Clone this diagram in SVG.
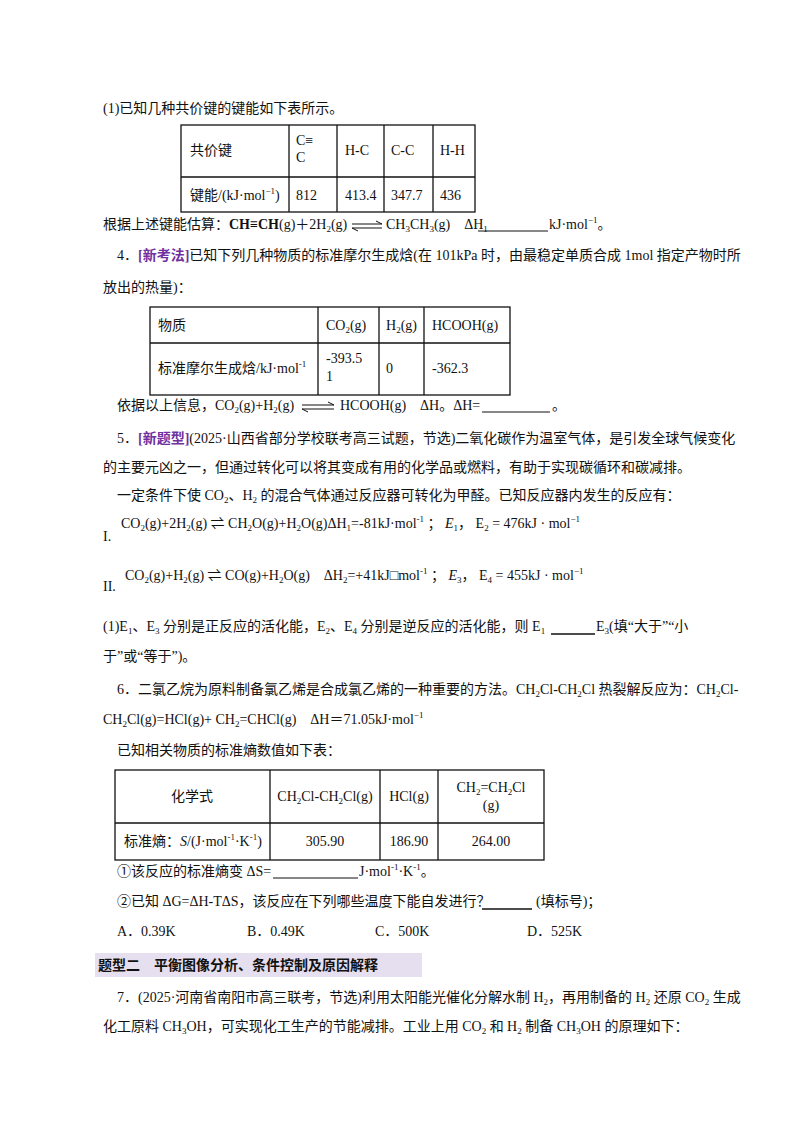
<svg xmlns="http://www.w3.org/2000/svg" width="800" height="1132" viewBox="0 0 800 1132">
<style>
text{font-family:"Liberation Serif","Noto Sans CJK SC",serif;font-size:14px;fill:#111}
.s{font-size:9px}
.p{fill:#7030a0;font-weight:bold}
.t line,.t rect{stroke:#111;stroke-width:1.3;fill:none}
.u{stroke:#111;stroke-width:1}
</style>
<rect width="800" height="1132" fill="#fff"/>
<text x="103" y="113">(1)已知几种共价键的键能如下表所示。</text>
<g id="table1" class="t">
<rect x="181" y="125" width="294" height="87"/>
<line x1="181" y1="177" x2="475" y2="177"/>
<line x1="289" y1="125" x2="289" y2="212"/>
<line x1="337" y1="125" x2="337" y2="212"/>
<line x1="384" y1="125" x2="384" y2="212"/>
<line x1="433" y1="125" x2="433" y2="212"/>
</g>
<text x="190" y="155">共价键</text>
<text x="296" y="145">C≡</text><text x="296" y="162">C</text>
<text x="345" y="155">H-C</text><text x="391" y="155">C-C</text><text x="440" y="155">H-H</text>
<text x="190" y="200">键能/(kJ·mol<tspan class="s" dy="-6">−1</tspan><tspan dy="6">)</tspan></text>
<text x="296" y="200">812</text><text x="345" y="200">413.4</text><text x="391" y="200">347.7</text><text x="440" y="200">436</text>
<text x="103" y="229">根据上述键能估算：<tspan font-weight="bold">CH≡CH</tspan>(g)＋2H<tspan class="s" dy="3">2</tspan><tspan dy="-3">(g)</tspan></text>
<g class="u"><line x1="352" y1="224" x2="382" y2="224"/><line x1="352" y1="228" x2="382" y2="228"/><line x1="352" y1="228" x2="358" y2="231"/><line x1="382" y1="224" x2="376" y2="221"/></g>
<text x="386" y="229">CH<tspan class="s" dy="3">3</tspan><tspan dy="-3">CH</tspan><tspan class="s" dy="3">3</tspan><tspan dy="-3">(g)　ΔH</tspan><tspan class="s" dy="3">1</tspan></text>
<line class="u" x1="478" y1="231" x2="548" y2="231"/>
<text x="549" y="229">kJ·mol<tspan class="s" dy="-6">−1</tspan><tspan dy="6">。</tspan></text>
<text x="117" y="260">4．<tspan class="p">[新考法]</tspan>已知下列几种物质的标准摩尔生成焓(在 101kPa 时，由最稳定单质合成 1mol 指定产物时所</text>
<text x="103" y="292">放出的热量)：</text>
<g id="table2" class="t">
<rect x="150" y="307" width="360" height="88"/>
<line x1="150" y1="343" x2="510" y2="343"/>
<line x1="318" y1="307" x2="318" y2="395"/>
<line x1="379" y1="307" x2="379" y2="395"/>
<line x1="424" y1="307" x2="424" y2="395"/>
</g>
<text x="158" y="330">物质</text>
<text x="326" y="330">CO<tspan class="s" dy="3">2</tspan><tspan dy="-3">(g)</tspan></text>
<text x="386" y="330">H<tspan class="s" dy="3">2</tspan><tspan dy="-3">(g)</tspan></text>
<text x="432" y="330">HCOOH(g)</text>
<text x="158" y="373">标准摩尔生成焓/kJ·mol<tspan class="s" dy="-6">-1</tspan></text>
<text x="326" y="363">-393.5</text><text x="326" y="381">1</text>
<text x="386" y="373">0</text><text x="432" y="373">-362.3</text>
<text x="117" y="410">依据以上信息，CO<tspan class="s" dy="3">2</tspan><tspan dy="-3">(g)+H</tspan><tspan class="s" dy="3">2</tspan><tspan dy="-3">(g)</tspan></text>
<g class="u"><line x1="302" y1="405" x2="334" y2="405"/><line x1="302" y1="409" x2="334" y2="409"/><line x1="302" y1="409" x2="308" y2="412"/><line x1="334" y1="405" x2="328" y2="402"/></g>
<text x="340" y="410">HCOOH(g)　ΔH。ΔH=</text>
<line class="u" x1="482" y1="412" x2="550" y2="412"/>
<text x="552" y="410">。</text>
<text x="117" y="443">5．<tspan class="p">[新题型]</tspan>(2025·山西省部分学校联考高三试题，节选)二氧化碳作为温室气体，是引发全球气候变化</text>
<text x="103" y="472">的主要元凶之一，但通过转化可以将其变成有用的化学品或燃料，有助于实现碳循环和碳减排。</text>
<text x="117" y="500">一定条件下使 CO<tspan class="s" dy="3">2</tspan><tspan dy="-3">、H</tspan><tspan class="s" dy="3">2</tspan><tspan dy="-3"> 的混合气体通过反应器可转化为甲醛。已知反应器内发生的反应有：</tspan></text>
<text x="103" y="541">I.</text>
<text x="121" y="528" font-size="14.5">CO<tspan class="s" dy="3">2</tspan><tspan dy="-3">(g)+2H</tspan><tspan class="s" dy="3">2</tspan><tspan dy="-3">(g) ⇌ CH</tspan><tspan class="s" dy="3">2</tspan><tspan dy="-3">O(g)+H</tspan><tspan class="s" dy="3">2</tspan><tspan dy="-3">O(g)ΔH</tspan><tspan class="s" dy="3">1</tspan><tspan dy="-3">=-81kJ·mol</tspan><tspan class="s" dy="-6">-1</tspan><tspan dy="6"> ；</tspan><tspan font-style="italic"> E</tspan><tspan class="s" dy="3">1</tspan><tspan dy="-3">，  E</tspan><tspan class="s" dy="3">2</tspan><tspan dy="-3"> = 476kJ · mol</tspan><tspan class="s" dy="-6">−1</tspan></text>
<text x="103" y="591">II.</text>
<text x="125" y="580" font-size="14.5">CO<tspan class="s" dy="3">2</tspan><tspan dy="-3">(g)+H</tspan><tspan class="s" dy="3">2</tspan><tspan dy="-3">(g) ⇌ CO(g)+H</tspan><tspan class="s" dy="3">2</tspan><tspan dy="-3">O(g)　ΔH</tspan><tspan class="s" dy="3">2</tspan><tspan dy="-3">=+41kJ□mol</tspan><tspan class="s" dy="-6">-1</tspan><tspan dy="6"> ；</tspan><tspan font-style="italic"> E</tspan><tspan class="s" dy="3">3</tspan><tspan dy="-3">，  E</tspan><tspan class="s" dy="3">4</tspan><tspan dy="-3"> = 455kJ · mol</tspan><tspan class="s" dy="-6">−1</tspan></text>
<text x="103" y="631">(1)E<tspan class="s" dy="3">1</tspan><tspan dy="-3">、E</tspan><tspan class="s" dy="3">3</tspan><tspan dy="-3"> 分别是正反应的活化能，E</tspan><tspan class="s" dy="3">2</tspan><tspan dy="-3">、E</tspan><tspan class="s" dy="3">4</tspan><tspan dy="-3"> 分别是逆反应的活化能，则 E</tspan><tspan class="s" dy="3">1</tspan></text>
<line x1="551" y1="634" x2="595" y2="634" stroke="#111" stroke-width="1.5"/>
<text x="596" y="631">E<tspan class="s" dy="3">3</tspan><tspan dy="-3">(填“大于”“小</tspan></text>
<text x="103" y="661">于”或“等于”)。</text>
<text x="117" y="694">6．二氯乙烷为原料制备氯乙烯是合成氯乙烯的一种重要的方法。CH<tspan class="s" dy="3">2</tspan><tspan dy="-3">Cl-CH</tspan><tspan class="s" dy="3">2</tspan><tspan dy="-3">Cl 热裂解反应为：CH</tspan><tspan class="s" dy="3">2</tspan><tspan dy="-3">Cl-</tspan></text>
<text x="103" y="724">CH<tspan class="s" dy="3">2</tspan><tspan dy="-3">Cl(g)=HCl(g)+  CH</tspan><tspan class="s" dy="3">2</tspan><tspan dy="-3">=CHCl(g)　ΔH＝71.05kJ·mol</tspan><tspan class="s" dy="-6">−1</tspan></text>
<text x="117" y="755">已知相关物质的标准熵数值如下表：</text>
<g id="table3" class="t">
<rect x="115" y="770" width="429" height="90"/>
<line x1="115" y1="823" x2="544" y2="823"/>
<line x1="270" y1="770" x2="270" y2="860"/>
<line x1="380" y1="770" x2="380" y2="860"/>
<line x1="438" y1="770" x2="438" y2="860"/>
</g>
<text x="192" y="801" text-anchor="middle">化学式</text>
<text x="325" y="801" text-anchor="middle">CH<tspan class="s" dy="3">2</tspan><tspan dy="-3">Cl-CH</tspan><tspan class="s" dy="3">2</tspan><tspan dy="-3">Cl(g)</tspan></text>
<text x="409" y="801" text-anchor="middle">HCl(g)</text>
<text x="491" y="792" text-anchor="middle">CH<tspan class="s" dy="3">2</tspan><tspan dy="-3">=CH</tspan><tspan class="s" dy="3">2</tspan><tspan dy="-3">Cl</tspan></text>
<text x="491" y="810" text-anchor="middle">(g)</text>
<text x="124" y="846">标准熵：<tspan font-style="italic">S</tspan>/(J·mol<tspan class="s" dy="-6">-1</tspan><tspan dy="6">·K</tspan><tspan class="s" dy="-6">-1</tspan><tspan dy="6">)</tspan></text>
<text x="325" y="846" text-anchor="middle">305.90</text>
<text x="409" y="846" text-anchor="middle">186.90</text>
<text x="491" y="846" text-anchor="middle">264.00</text>
<text x="117" y="876">①该反应的标准熵变 ΔS=</text>
<line class="u" x1="273" y1="878" x2="358" y2="878"/>
<text x="359" y="876">J·mol<tspan class="s" dy="-6">-1</tspan><tspan dy="6">·K</tspan><tspan class="s" dy="-6">-1</tspan><tspan dy="6">。</tspan></text>
<text x="117" y="906">②已知 ΔG=ΔH-TΔS，该反应在下列哪些温度下能自发进行？</text>
<line x1="482" y1="909" x2="532" y2="909" stroke="#111" stroke-width="1.5"/>
<text x="536" y="906">(填标号)；</text>
<text x="117" y="936">A．0.39K</text><text x="247" y="936">B．0.49K</text><text x="375" y="936">C．500K</text><text x="527" y="936">D．525K</text>
<g id="banner">
<rect x="95" y="953" width="327" height="24" fill="#e6dff0"/>
<text x="98" y="970" fill="#7030a0" font-weight="bold" font-size="15">题型二　平衡图像分析、条件控制及原因解释</text>
</g>
<text x="117" y="1002">7．(2025·河南省南阳市高三联考，节选)利用太阳能光催化分解水制 H<tspan class="s" dy="3">2</tspan><tspan dy="-3">，再用制备的 H</tspan><tspan class="s" dy="3">2</tspan><tspan dy="-3"> 还原 CO</tspan><tspan class="s" dy="3">2</tspan><tspan dy="-3"> 生成</tspan></text>
<text x="103" y="1031">化工原料 CH<tspan class="s" dy="3">3</tspan><tspan dy="-3">OH，可实现化工生产的节能减排。工业上用 CO</tspan><tspan class="s" dy="3">2</tspan><tspan dy="-3"> 和 H</tspan><tspan class="s" dy="3">2</tspan><tspan dy="-3"> 制备 CH</tspan><tspan class="s" dy="3">3</tspan><tspan dy="-3">OH 的原理如下：</tspan></text>
</svg>
